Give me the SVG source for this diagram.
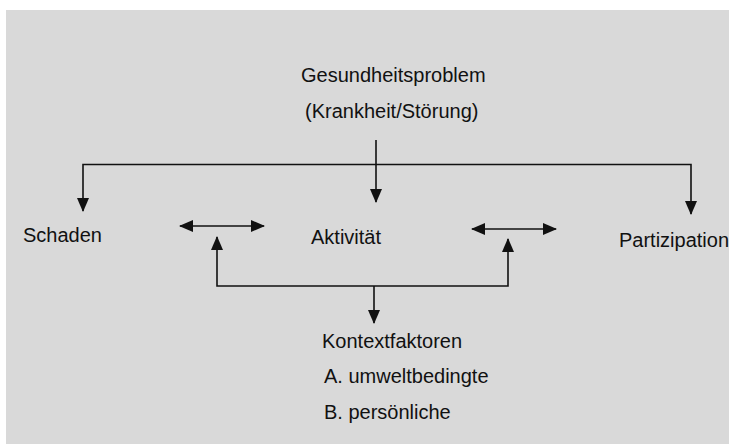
<svg xmlns="http://www.w3.org/2000/svg" width="729" height="444" viewBox="0 0 729 444">
  <defs>
    <style>
      .lbl { font-family: "Liberation Sans", Arial, sans-serif; font-size: 20px; fill: #111; }
      .con { fill: none; stroke: #111; stroke-width: 1.6; }
    </style>
    <marker id="arr" markerUnits="userSpaceOnUse" markerWidth="14" markerHeight="12" refX="13" refY="6" orient="auto-start-reverse">
      <path d="M0,0 L14,6 L0,12 z" fill="#111"/>
    </marker>
  </defs>
  <rect x="0" y="0" width="729" height="444" fill="#ffffff"/>
  <rect x="6" y="10" width="723" height="434" fill="#d9d9d9"/>

  <g id="connectors">
    <path class="con" d="M376,140 V202" marker-end="url(#arr)"/>
    <path class="con" d="M376,164.5 H83 V211" marker-end="url(#arr)"/>
    <path class="con" d="M376,164.5 H691 V214" marker-end="url(#arr)"/>
    <path class="con" d="M180,226 H264" marker-start="url(#arr)" marker-end="url(#arr)"/>
    <path class="con" d="M472,229 H556" marker-start="url(#arr)" marker-end="url(#arr)"/>
    <path class="con" d="M374,286 H217 V237" marker-end="url(#arr)"/>
    <path class="con" d="M374,286 H508 V239" marker-end="url(#arr)"/>
    <path class="con" d="M374,286 V323" marker-end="url(#arr)"/>
  </g>

  <g id="gesundheitsproblem">
    <text class="lbl" x="301" y="82">Gesundheitsproblem</text>
    <text class="lbl" x="305" y="118">(Krankheit/Störung)</text>
  </g>
  <g id="schaden">
    <text class="lbl" x="23" y="242">Schaden</text>
  </g>
  <g id="aktivitaet">
    <text class="lbl" x="311" y="244">Aktivität</text>
  </g>
  <g id="partizipation">
    <text class="lbl" x="619" y="247">Partizipation</text>
  </g>
  <g id="kontextfaktoren">
    <text class="lbl" x="322" y="348">Kontextfaktoren</text>
    <text class="lbl" x="324" y="383">A. umweltbedingte</text>
    <text class="lbl" x="324" y="419">B. persönliche</text>
  </g>
</svg>
